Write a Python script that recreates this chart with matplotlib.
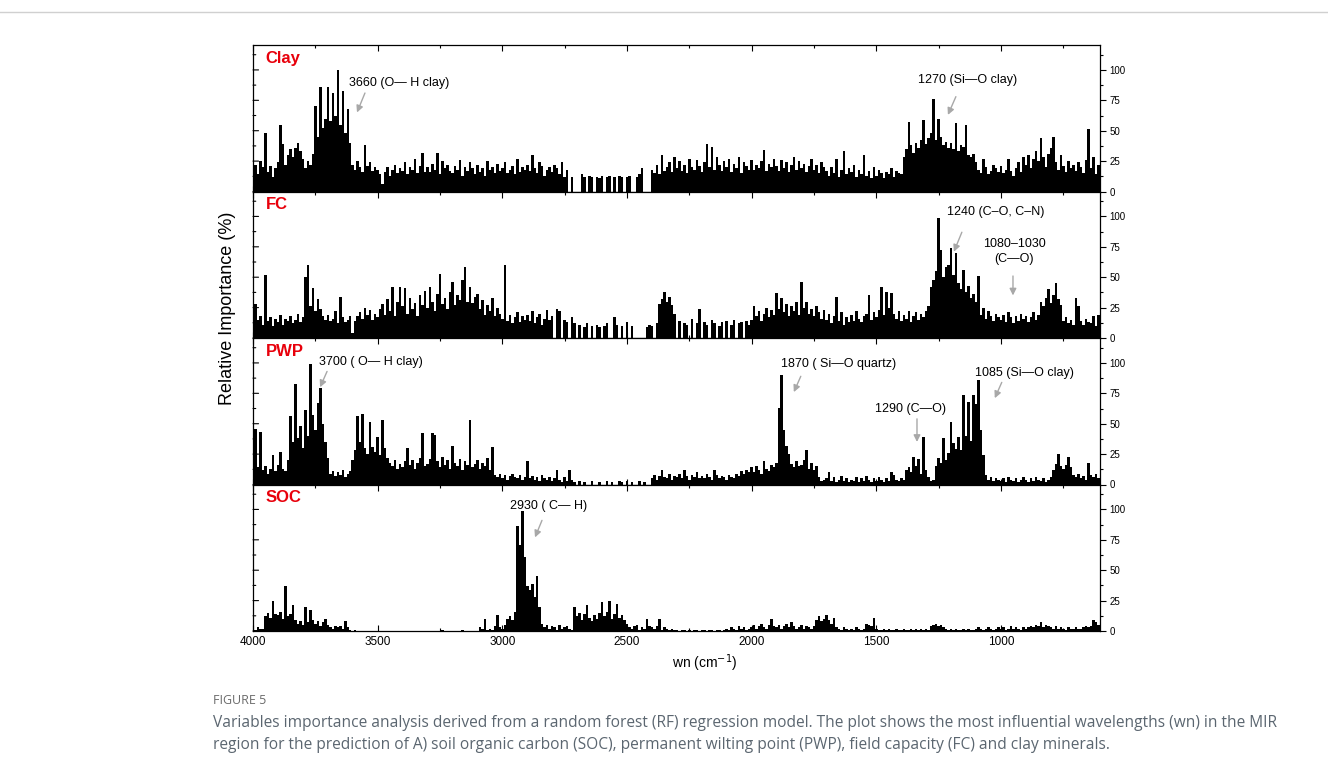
import numpy as np
import matplotlib
matplotlib.use("Agg")
import matplotlib.pyplot as plt
from matplotlib.ticker import MultipleLocator

plt.rcParams['font.family'] = ['Liberation Sans', 'DejaVu Sans']

# wavenumbers, 4000 -> 610 every 10 cm-1
wn = np.arange(4000, 600, -10)

clay = [
    18, 22, 14, 25, 20, 48, 16, 21, 12, 19,
    24, 55, 39, 22, 30, 35, 28, 36, 40, 33,
    27, 19, 25, 22, 31, 70, 45, 86, 52, 60,
    86, 58, 81, 62, 100, 55, 83, 48, 68, 40,
    22, 18, 25, 20, 16, 38, 21, 24, 17, 20,
    18, 14, 6, 16, 20, 13, 18, 22, 15, 19,
    17, 24, 14, 20, 18, 27, 15, 21, 32, 16,
    20, 16, 23, 18, 32, 14, 25, 19, 22, 17,
    15, 21, 18, 26, 13, 20, 17, 24, 19, 14,
    22, 16, 19, 13, 25, 18, 20, 15, 23, 17,
    19, 24, 15, 18, 21, 14, 27, 16, 20, 18,
    22, 17, 30, 19, 15, 24, 21, 13, 18, 20,
    16, 22, 19, 14, 24, 12, 18, 0, 12, 0,
    0, 0, 14, 12, 0, 13, 12, 0, 12, 11,
    13, 0, 12, 13, 0, 12, 0, 13, 12, 0,
    12, 13, 0, 0, 12, 14, 19, 0, 0, 0,
    18, 15, 22, 14, 30, 17, 20, 24, 16, 28,
    19, 25, 17, 22, 15, 27, 20, 18, 26, 21,
    16, 24, 39, 20, 37, 18, 28, 22, 17, 25,
    20, 27, 16, 23, 19, 28, 15, 24, 21, 18,
    26, 18, 22, 19, 25, 34, 17, 23, 20, 27,
    21, 17, 26, 19, 24, 16, 22, 28, 18, 25,
    19, 23, 16, 21, 27, 18, 22, 15, 24, 20,
    17, 13, 20, 15, 27, 12, 18, 33, 14, 19,
    16, 22, 12, 18, 14, 30, 13, 17, 11, 20,
    13, 18, 15, 11, 16, 14, 19, 12, 17, 15,
    14, 28, 35, 57, 38, 32, 40, 36, 42, 59,
    39, 44, 48, 76, 42, 60, 45, 38, 41, 36,
    40, 35, 56, 33, 38, 37, 55, 30, 28, 31,
    24, 18, 15, 27, 20, 14, 17, 22, 19, 16,
    21, 15, 18, 27, 17, 13, 19, 24, 16, 28,
    22, 30, 19, 27, 33, 25, 44, 28, 20, 31,
    36, 45, 24, 18, 30, 21, 16, 25, 19, 22,
    17, 24, 20, 15, 26, 51, 19, 28, 14, 22,
]

fc = [
    12, 28, 15, 18, 11, 52, 14, 17, 10, 16,
    13, 19, 11, 16, 14, 18, 12, 15, 20, 13,
    17, 50, 60, 26, 41, 22, 32, 24, 18, 15,
    19, 14, 16, 22, 12, 34, 17, 13, 15, 18,
    4, 14, 18, 21, 16, 25, 19, 23, 15, 20,
    17, 24, 28, 19, 32, 22, 42, 18, 30, 42,
    26, 41, 20, 33, 24, 29, 18, 35, 27, 39,
    25, 42, 30, 22, 36, 53, 28, 33, 24, 38,
    46, 27, 35, 31, 48, 58, 30, 42, 29, 34,
    36, 24, 31, 19, 27, 22, 33, 18, 25, 20,
    16, 60, 14, 19, 12, 17, 21, 13, 18, 15,
    19, 14, 22, 12, 17, 20, 11, 16, 23, 15,
    18, 0, 24, 22, 0, 15, 13, 0, 17, 12,
    0, 11, 0, 9, 12, 0, 10, 0, 11, 9,
    0, 10, 12, 0, 0, 17, 11, 0, 10, 0,
    13, 0, 10, 0, 0, 0, 0, 0, 9, 11,
    10, 0, 12, 28, 32, 38, 30, 34, 27, 20,
    0, 14, 0, 12, 11, 0, 16, 0, 12, 24,
    0, 13, 11, 0, 15, 12, 0, 10, 13, 0,
    14, 0, 11, 15, 0, 12, 13, 0, 14, 11,
    15, 26, 18, 22, 14, 20, 25, 17, 23, 19,
    37, 24, 33, 21, 28, 18, 26, 22, 30, 19,
    46, 25, 30, 20, 24, 18, 26, 21, 16, 23,
    15, 20, 12, 18, 34, 14, 21, 11, 17, 13,
    19, 14, 22, 16, 13, 18, 20, 35, 15, 21,
    17, 23, 42, 19, 38, 25, 37, 20, 16, 22,
    14, 19, 16, 22, 13, 18, 21, 15, 20, 17,
    22, 26, 42, 48, 55, 99, 72, 50, 58, 60,
    74, 52, 70, 45, 40, 56, 38, 43, 33, 36,
    30, 51, 19, 25, 16, 22, 18, 14, 20, 17,
    15, 19, 13, 21, 17, 12, 18, 14, 20, 16,
    18, 13, 17, 21, 15, 19, 30, 26, 33, 40,
    29, 35, 45, 32, 27, 14, 17, 12, 15, 11,
    33, 26, 14, 11, 16, 13, 12, 18, 10, 19,
]

pwp = [
    10, 46, 14, 43, 12, 15, 9, 13, 24, 11,
    16, 27, 13, 11, 20, 56, 35, 83, 38, 48,
    30, 61, 40, 99, 57, 45, 67, 79, 50, 35,
    22, 9, 11, 7, 10, 8, 12, 6, 9, 11,
    20, 28, 56, 35, 58, 30, 25, 51, 31, 27,
    39, 24, 53, 30, 22, 18, 15, 20, 13, 17,
    14, 19, 30, 16, 20, 13, 18, 22, 42, 15,
    17, 21, 42, 41, 19, 14, 23, 16, 20, 13,
    32, 18, 15, 21, 12, 19, 16, 53, 14, 17,
    20, 13, 18, 15, 22, 12, 31, 8, 6, 9,
    5, 8, 4, 7, 9, 6, 5, 8, 4, 6,
    19, 5, 7, 4, 6, 3, 8, 5, 4, 6,
    3, 5, 12, 4, 2, 6, 3, 12, 4, 2,
    0, 3, 0, 2, 0, 0, 3, 0, 0, 2,
    0, 0, 3, 0, 2, 0, 0, 3, 2, 0,
    3, 0, 2, 0, 0, 3, 0, 2, 0, 0,
    5, 8, 4, 7, 12, 6, 5, 9, 4, 7,
    6, 9, 5, 12, 7, 4, 8, 6, 10, 5,
    7, 5, 9, 6, 4, 12, 8, 5, 7, 6,
    4, 8, 6, 5, 9, 7, 11, 9, 12, 10,
    14, 10, 15, 12, 9, 19, 13, 11, 16, 14,
    18, 63, 90, 45, 32, 25, 17, 14, 19, 15,
    16, 20, 28, 13, 18, 12, 15, 6, 3, 4,
    5, 10, 3, 6, 2, 4, 7, 3, 5, 2,
    4, 3, 6, 2, 5, 3, 7, 4, 2, 5,
    3, 6, 4, 2, 5, 3, 10, 8, 4, 3,
    5, 4, 12, 14, 10, 23, 15, 21, 9, 39,
    12, 6, 3, 4, 15, 22, 18, 38, 20, 26,
    51, 34, 29, 39, 28, 74, 40, 68, 36, 74,
    66, 86, 45, 24, 8, 4, 6, 3, 5, 4,
    3, 5, 2, 6, 4, 3, 5, 2, 4, 6,
    4, 2, 5, 3, 6, 4, 3, 5, 2, 4,
    6, 12, 17, 25, 15, 13, 16, 23, 14, 8,
    6, 9, 5, 7, 4, 18, 8, 6, 9, 5,
]

soc = [
    2, 1, 3, 2, 2, 12, 15, 11, 25, 14,
    13, 16, 10, 37, 12, 14, 21, 9, 6, 8,
    5, 20, 7, 17, 9, 6, 8, 4, 7, 10,
    5, 3, 2, 4, 3, 4, 2, 8, 3, 1,
    0, 1, 0, 0, 0, 0, 0, 0, 0, 0,
    0, 0, 0, 0, 0, 0, 0, 0, 0, 0,
    0, 0, 0, 0, 0, 0, 0, 0, 0, 0,
    0, 0, 0, 0, 0, 0, 1, 0, 0, 0,
    0, 0, 0, 0, 1, 0, 0, 0, 0, 0,
    0, 3, 2, 10, 1, 2, 1, 4, 13, 3,
    2, 5, 10, 12, 9, 16, 86, 71, 99, 61,
    37, 34, 39, 28, 45, 20, 6, 3, 5, 2,
    4, 3, 1, 5, 2, 3, 4, 2, 1, 20,
    12, 15, 9, 14, 21, 11, 8, 13, 10, 15,
    24, 12, 16, 25, 10, 14, 22, 11, 13, 9,
    6, 3, 2, 4, 5, 1, 3, 2, 10, 4,
    3, 2, 4, 10, 1, 3, 2, 1, 2, 1,
    1, 0, 1, 1, 0, 1, 0, 1, 1, 0,
    1, 1, 0, 1, 1, 0, 1, 1, 0, 1,
    2, 1, 3, 2, 1, 4, 2, 3, 1, 2,
    3, 5, 2, 4, 6, 3, 2, 5, 10, 4,
    3, 5, 2, 4, 6, 3, 7, 4, 2, 3,
    5, 2, 4, 3, 2, 4, 9, 12, 8, 10,
    13, 9, 6, 11, 3, 2, 1, 3, 2, 1,
    2, 1, 3, 2, 1, 2, 6, 5, 4, 11,
    2, 1, 1, 2, 1, 2, 1, 1, 2, 1,
    1, 2, 1, 1, 2, 1, 2, 1, 2, 1,
    2, 1, 4, 5, 6, 4, 5, 3, 2, 1,
    2, 1, 2, 1, 1, 2, 1, 2, 1, 1,
    2, 3, 2, 1, 2, 3, 2, 1, 2, 3,
    2, 3, 1, 2, 4, 2, 3, 2, 1, 3,
    2, 3, 4, 3, 5, 4, 7, 3, 5, 4,
    3, 2, 4, 2, 3, 2, 1, 3, 2, 2,
    3, 2, 2, 3, 4, 3, 4, 9, 7, 5,
]

panel_names = ["Clay", "FC", "PWP", "SOC"]
panel_data = [clay, fc, pwp, soc]
ytick_vals = [0, 25, 50, 75, 100]

# annotations: (panel, text, text_x, text_y, arrow_from, arrow_to)
annotations = [
    (0, "3660 (O\u2014 H clay)", 3415, 89, (3551, 81), (3583, 65)),
    (0, "1270 (Si\u2014O clay)", 1133, 92, (1181, 78), (1213, 63)),
    (1, "1240 (C\u2013O, C\u2013N)", 1020, 104, (1157, 87), (1189, 71)),
    (1, "1080\u20131030\n(C\u2014O)", 948, 71, (952, 51), (952, 35)),
    (2, "3700 ( O\u2014 H clay)", 3527, 101, (3703, 93), (3731, 80)),
    (2, "1870 ( Si\u2014O quartz)", 1650, 99, (1803, 89), (1831, 76)),
    (2, "1290 (C\u2014O)", 1365, 62, (1337, 54), (1337, 35)),
    (2, "1085 (Si\u2014O clay)", 908, 91.5, (997, 84), (1025, 71)),
    (3, "2930 ( C\u2014 H)", 2813, 103, (2841, 91), (2869, 77)),
]

W, H = 1328, 776
fig = plt.figure(figsize=(W / 100, H / 100), dpi=100)

left = 253 / W
right = 1100 / W
tops = [45, 191.5, 338, 484.5]
bottoms = [191.5, 338, 484.5, 631]
axes = []
for i in range(4):
    ax = fig.add_axes([left, 1 - bottoms[i] / H, right - left, (bottoms[i] - tops[i]) / H])
    ax.bar(wn, panel_data[i], width=10.0, color="black", linewidth=0, align="center")
    ax.set_xlim(4000, 603)
    ax.set_ylim(0, 120.5)
    ax.xaxis.set_major_locator(MultipleLocator(500))
    ax.xaxis.set_minor_locator(MultipleLocator(250))
    ax.yaxis.set_major_locator(MultipleLocator(25))
    ax.yaxis.set_minor_locator(MultipleLocator(12.5))
    ax.set_yticks(ytick_vals)
    ax.tick_params(axis="x", which="both", direction="in", top=True, bottom=True,
                   labelbottom=(i == 3), labelsize=8.5)
    ax.tick_params(axis="x", which="major", length=4, width=0.8)
    ax.tick_params(axis="x", which="minor", length=2, width=0.8)
    ax.tick_params(axis="y", which="both", left=False, right=True, labelleft=False,
                   labelright=True, labelsize=7, direction="out", pad=3)
    ax.tick_params(axis="y", which="major", length=4, width=0.8)
    ax.tick_params(axis="y", which="minor", length=2, width=0.8)
    for sp in ax.spines.values():
        sp.set_linewidth(0.9)
    ax.text(0.015, 0.96, panel_names[i], transform=ax.transAxes, color="#e8000b",
            fontsize=12, fontweight="bold", ha="left", va="top")
    axes.append(ax)

# left ticks drawn inward
for ax in axes:
    for y in np.arange(0, 121, 12.5):
        ln = 4 if y % 25 == 0 else 2
        ax.annotate("", xy=(0, y), xycoords=("axes fraction", "data"),
                    xytext=(ln, 0), textcoords="offset points",
                    arrowprops=dict(arrowstyle="-", lw=0.8, color="black",
                                    shrinkA=0, shrinkB=0))

for (p, txt, tx, ty, a0, a1) in annotations:
    ax = axes[p]
    ax.text(tx, ty, txt, fontsize=9, ha="center", va="center", linespacing=1.3)
    ax.annotate("", xy=a1, xytext=a0,
                arrowprops=dict(arrowstyle="-|>", color="#a8a8a8", lw=1.0,
                                mutation_scale=10, shrinkA=0, shrinkB=0))

fig.text(228 / W, 1 - 308 / H, "Relative Importance (%)", rotation=90,
         fontsize=13, ha="center", va="center")
fig.text(705 / W, 1 - 663 / H, "wn (cm$^{-1}$)", fontsize=10, ha="center", va="center")

# top rule
fig.add_artist(plt.Line2D([0, 1], [1 - 12 / H, 1 - 12 / H], color="#d0d0d0", lw=1))

fig.text(213 / W, 1 - 700 / H, "FIGURE 5", fontsize=9, color="#6b6b6b",
         family=["Open Sans", "DejaVu Sans"], ha="left", va="center")
fig.text(213 / W, 1 - 734 / H,
         "Variables importance analysis derived from a random forest (RF) regression model. The plot shows the most influential wavelengths (wn) in the MIR\n"
         "region for the prediction of A) soil organic carbon (SOC), permanent wilting point (PWP), field capacity (FC) and clay minerals.",
         fontsize=11.2, color="#5b6670", family=["Open Sans", "DejaVu Sans"],
         ha="left", va="center", linespacing=1.5)

fig.savefig("out.png", dpi=100)
